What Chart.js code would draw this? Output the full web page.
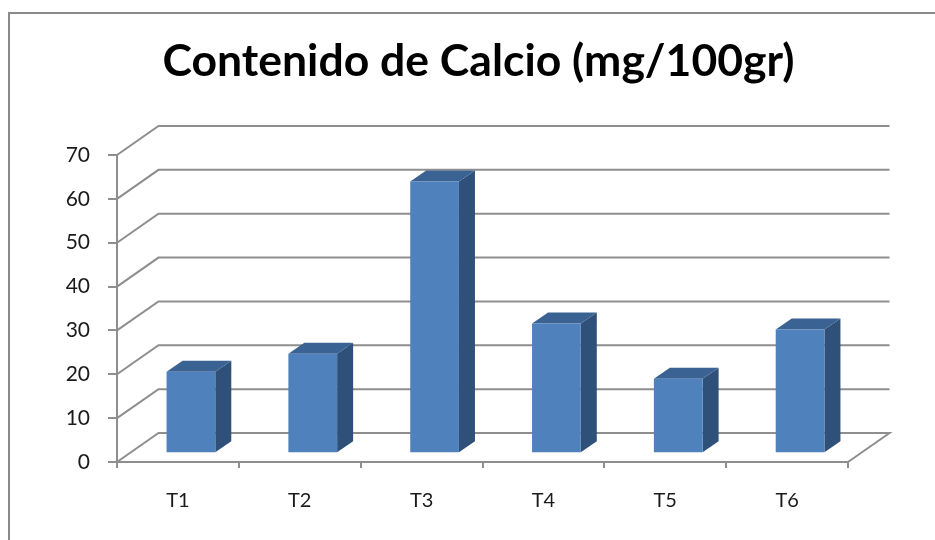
<!DOCTYPE html>
<html><head><meta charset="utf-8">
<style>html,body{margin:0;padding:0;background:#fff}#w{width:935px;height:540px}canvas{display:block}</style>
<script src="https://cdn.jsdelivr.net/npm/chart.js@4"></script>
</head><body><div id="w"><canvas id="c" width="935" height="540"></canvas></div>
<script>
const categories = ["T1","T2","T3","T4","T5","T6"];
const calcio = [18.6,22.7,62,29.6,17,28.2];
const titleText = "Contenido de Calcio (mg/100gr)";
const GRID='#8e8e8e', FRONT='#4f81bd', SIDE='#2f5078', TOP='#3a6292';
const WALL={dx:41.5,dy:29}, BAR={dx:16,dy:11}, SHIFT={dx:13,dy:8.7};

const frame={id:'frame',beforeDraw(ch){const c=ch.ctx;c.save();c.strokeStyle='#8a8a8a';c.lineWidth=2;
  c.beginPath();c.moveTo(9,541);c.lineTo(9,13);c.lineTo(936,13);c.stroke();c.restore();}};
const wall={id:'wall',beforeDatasetsDraw(ch){const c=ch.ctx,{x,y}=ch.scales;c.save();c.strokeStyle=GRID;c.lineWidth=2;
  const l=x.left,r=x.right;
  y.ticks.forEach(t=>{const p=y.getPixelForValue(t.value);
    c.beginPath();c.moveTo(l,p);c.lineTo(l+WALL.dx,p-WALL.dy);c.lineTo(r+WALL.dx,p-WALL.dy);
    if(t.value===0){c.lineTo(r,p);}
    c.stroke();});
  c.restore();}};
const bars3d={id:'bars3d',
  beforeDatasetDraw(ch){const c=ch.ctx;c.save();c.translate(SHIFT.dx,-SHIFT.dy);
    ch.getDatasetMeta(0).data.forEach(b=>{const L=b.x-b.width/2,R=b.x+b.width/2,T=b.y,B=b.base;
      c.fillStyle=SIDE;c.beginPath();c.moveTo(R,T);c.lineTo(R+BAR.dx,T-BAR.dy);c.lineTo(R+BAR.dx,B-BAR.dy);c.lineTo(R,B);c.closePath();c.fill();
      c.fillStyle=TOP;c.beginPath();c.moveTo(L,T);c.lineTo(L+BAR.dx,T-BAR.dy);c.lineTo(R+BAR.dx,T-BAR.dy);c.lineTo(R,T);c.closePath();c.fill();
    });},
  afterDatasetDraw(ch){ch.ctx.restore();}};
const titlePos={id:'titlePos',afterLayout(ch){const t=ch.titleBlock;t.left=22;t.right=935;t.width=913;}};

new Chart(document.getElementById('c'),{
  type:'bar',
  data:{labels:categories,datasets:[{data:calcio,backgroundColor:FRONT,categoryPercentage:1,barPercentage:0.4}]},
  plugins:[frame,wall,bars3d,titlePos],
  options:{responsive:false,animation:false,
    layout:{padding:{left:0,right:87,top:35,bottom:0}},
    plugins:{legend:{display:false},tooltip:{enabled:false},
      title:{display:true,text:titleText,color:'#000',font:{family:'Lato',weight:'bold',size:44.5},padding:{top:0,bottom:66.6}}},
    scales:{
      x:{afterFit(s){s.height=78;},
        grid:{display:true,drawOnChartArea:false,color:GRID,lineWidth:2,tickLength:6,tickColor:GRID},
        border:{color:GRID,width:2},
        ticks:{color:'#1a1a1a',padding:21,maxRotation:0,font:{family:'Lato',size:20}}},
      y:{min:0,max:70,afterFit(s){s.width=117;},
        grid:{display:true,drawOnChartArea:false,color:GRID,lineWidth:2,tickLength:9,tickColor:GRID},
        border:{color:GRID,width:2},
        ticks:{stepSize:10,color:'#1a1a1a',padding:18,font:{family:'Lato',size:21}}}
    }}
});
</script></body></html>
